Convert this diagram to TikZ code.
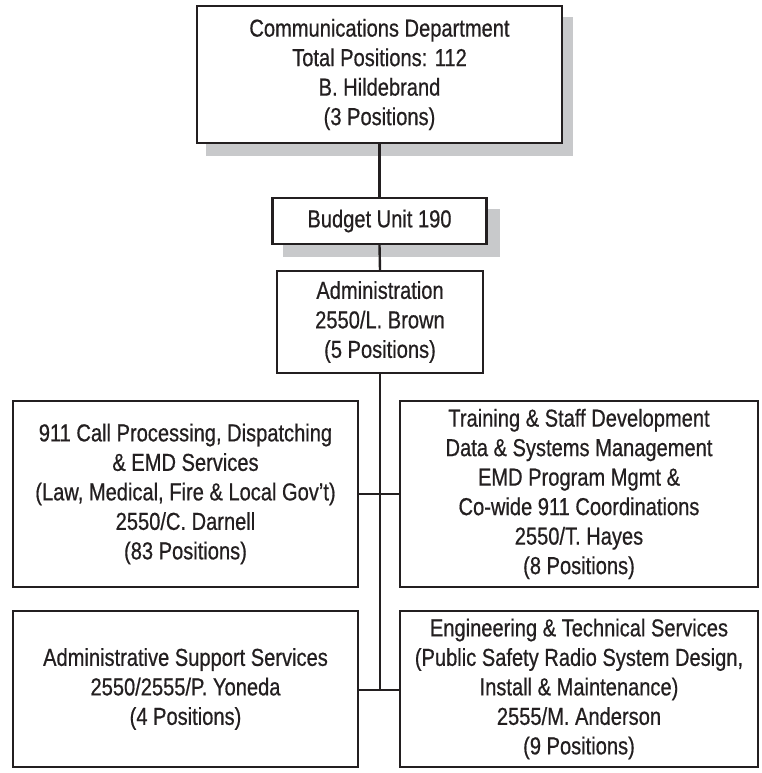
\documentclass[tikz,border=0pt]{standalone}
\usepackage{fontspec}
\setmainfont{Liberation Sans}[FakeStretch=0.82,FakeBold=0.6]
\usetikzlibrary{backgrounds}
\definecolor{ink}{HTML}{231F20}
\definecolor{shadowgray}{HTML}{C8C9CB}
\begin{document}
\begin{tikzpicture}[x=1pt,y=1pt,
  orgbox/.style={draw=ink,line width=2.4pt,fill=white,inner sep=0pt,align=center,
    text=ink,font=\fontsize{24.5}{29.5}\selectfont},
  link/.style={draw=ink,line width=2.4pt}]
\useasboundingbox (0,0) rectangle (762,-773);
\node[orgbox,minimum width=365pt,minimum height=137pt] (top) at (379.5,-74.5)
  {Communications Department\\Total Positions: 112\\B. Hildebrand\\(3 Positions)};
\node[orgbox,minimum width=214pt,minimum height=46pt] (budget) at (379.5,-221)
  {Budget Unit 190};
\node[orgbox,minimum width=206pt,minimum height=102pt] (admin) at (380,-322)
  {Administration\\2550/L. Brown\\(5 Positions)};
\node[orgbox,minimum width=345pt,minimum height=186pt] (call) at (185.5,-494)
  {911 Call Processing, Dispatching\\\& EMD Services\\(Law, Medical, Fire \& Local Gov’t)\\2550/C. Darnell\\(83 Positions)};
\node[orgbox,minimum width=358pt,minimum height=186pt] (train) at (579,-494)
  {Training \& Staff Development\\Data \& Systems Management\\EMD Program Mgmt \&\\Co-wide 911 Coordinations\\2550/T. Hayes\\(8 Positions)};
\node[orgbox,minimum width=345pt,minimum height=156pt] (support) at (185.5,-689)
  {Administrative Support Services\\2550/2555/P. Yoneda\\(4 Positions)};
\node[orgbox,minimum width=358pt,minimum height=156pt] (eng) at (579,-689)
  {Engineering \& Technical Services\\(Public Safety Radio System Design,\\Install \& Maintenance)\\2555/M. Anderson\\(9 Positions)};
\coordinate (j1) at (380,-494);
\coordinate (j2) at (380,-690);
\begin{scope}[on background layer]
  \fill[shadowgray] ([shift={(10,-12)}]top.south west) rectangle ([shift={(10,-12)}]top.north east);
  \fill[shadowgray] ([shift={(12,-12)}]budget.south west) rectangle ([shift={(12,-12)}]budget.north east);
\end{scope}
\draw[link] (top.south) -- (budget.north);
\draw[link] (budget.south) -- (admin.north);
\draw[link] (admin.south) -- (j2);
\draw[link] (call.east |- j1) -- (train.west |- j1);
\draw[link] (support.east |- j2) -- (eng.west |- j2);
\end{tikzpicture}
\end{document}
